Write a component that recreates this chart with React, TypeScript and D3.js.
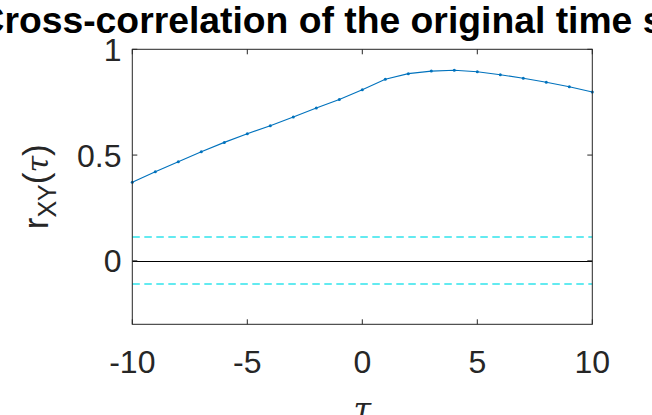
import React from "react";
import * as d3 from "d3";

const lags = [-10, -9, -8, -7, -6, -5, -4, -3, -2, -1, 0, 1, 2, 3, 4, 5, 6, 7, 8, 9, 10];
const rxy = [0.371, 0.421, 0.468, 0.516, 0.56, 0.601, 0.639, 0.68, 0.722, 0.763, 0.809, 0.858, 0.885, 0.897, 0.901, 0.894, 0.88, 0.863, 0.844, 0.823, 0.798];
const confBound = [0.111, -0.111];
const xTicks = [-10, -5, 0, 5, 10];
const yTicks = [0, 0.5, 1];
const yTickLabels = ["0", "0.5", "1"];
const titleText = "Cross-correlation of the original time series";

const W = 652, H = 415;
const L = 132.3, R = 592.3, T = 49.3, B = 324.3;
const FONT = "'Liberation Sans', Arial, Helvetica, sans-serif";
const AX = "#262626";

export default function App() {
  const x = d3.scaleLinear().domain([-10, 10]).range([L, R]);
  const y = d3.scaleLinear().domain([-0.3, 1]).range([B, T]);
  const pts: [number, number][] = lags.map((l, i) => [l, rxy[i]]);
  const line = d3.line<[number, number]>().x(d => x(d[0])).y(d => y(d[1]));
  const snap = (v: number) => Math.round(v) + 0.5;
  const tl = 5;
  return (
    <svg width={W} height={H} style={{ position: "absolute", left: 0, top: 0, background: "#fff" }}>
      <rect x={0} y={0} width={W} height={H} fill="#fff" />
      {/* confidence lines */}
      {confBound.map((c, i) => (
        <line key={i} x1={x(-10)} x2={x(10)} y1={Math.round(y(c))} y2={Math.round(y(c))} stroke="#30e4ec" strokeWidth={1.6} strokeDasharray="7.5,4.5" />
      ))}
      {/* zero line */}
      <line x1={x(-10)} x2={x(10)} y1={snap(y(0))} y2={snap(y(0))} stroke="#000" strokeWidth={1} />
      {/* data */}
      <path d={line(pts) || ""} fill="none" stroke="#0072BD" strokeWidth={1.1} />
      {pts.map((p, i) => (
        <circle key={i} cx={x(p[0])} cy={y(p[1])} r={1.5} fill="#0072BD" />
      ))}
      {/* box */}
      <rect x={L} y={T} width={R - L} height={B - T} fill="none" stroke={AX} strokeWidth={1} />
      {/* ticks */}
      {xTicks.map(t => (
        <g key={"x" + t}>
          <line x1={x(t)} x2={x(t)} y1={B} y2={B - tl} stroke={AX} />
          <line x1={x(t)} x2={x(t)} y1={T} y2={T + tl} stroke={AX} />
          <text x={x(t)} y={373} textAnchor="middle" fontFamily={FONT} fontSize={32} fill={AX}>{String(t)}</text>
        </g>
      ))}
      {yTicks.map((t, i) => (
        <g key={"y" + t}>
          <line x1={L} x2={L + tl} y1={y(t)} y2={y(t)} stroke={AX} />
          <line x1={R} x2={R - tl} y1={y(t)} y2={y(t)} stroke={AX} />
          <text x={121.5} y={y(t) + 11.5} textAnchor="end" fontFamily={FONT} fontSize={32} fill={AX}>{yTickLabels[i]}</text>
        </g>
      ))}
      {/* y label */}
      <text transform={`translate(48, ${(T + B) / 2}) rotate(-90)`} textAnchor="middle" fontFamily={FONT} fontSize={35} fill={AX}>
        <tspan>r</tspan>
        <tspan fontSize={25} dy={8}>XY</tspan>
        <tspan dy={-8}>(</tspan>
        <tspan fontFamily="'DejaVu Serif', 'Liberation Serif', serif" fontStyle="italic" fontSize={30}>τ</tspan>
        <tspan>)</tspan>
      </text>
      {/* x label */}
      <text x={(L + R) / 2} y={420} textAnchor="middle" fontFamily="'DejaVu Serif', 'Liberation Serif', serif" fontStyle="italic" fontSize={32} fill={AX}>τ</text>
      {/* title */}
      <text x={364} y={33} textAnchor="middle" fontFamily={FONT} fontWeight="bold" fontSize={37.3} fill="#000">{titleText}</text>
    </svg>
  );
}
